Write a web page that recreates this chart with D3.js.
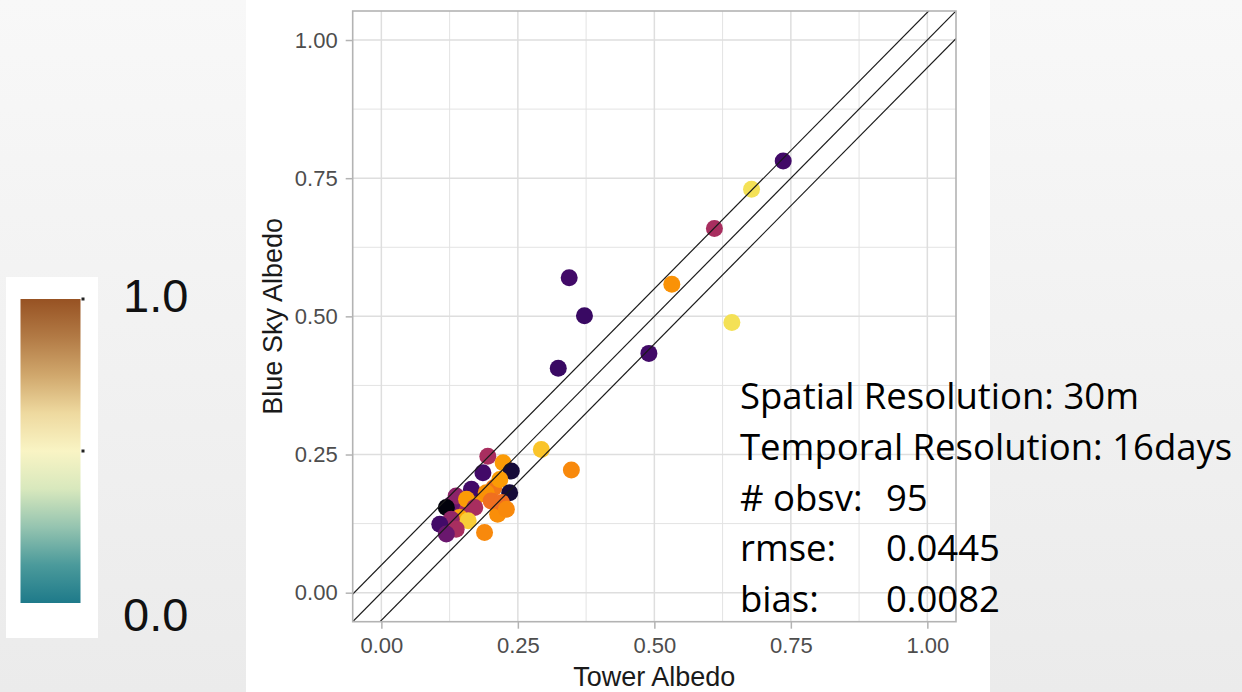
<!DOCTYPE html>
<html>
<head>
<meta charset="utf-8">
<script src="https://cdn.jsdelivr.net/npm/d3@7"></script>
<style>
  html, body { margin: 0; padding: 0; }
  body { width: 1242px; height: 692px; overflow: hidden; }
  text { font-variant-ligatures: none; }
</style>
</head>
<body>
<svg id="chart" width="1242" height="692"></svg>
<script>
// ---------- data ----------
const towerAlbedo = [0.176,0.206,0.153,0.129,0.213,
                     0.195,0.223,0.238,0.186,0.217,0.165,0.235,0.192,0.137,0.156,0.201,0.171,0.220,0.229,0.119,0.143,0.159,0.128,0.107,0.137,0.119,0.189,
                     0.293,0.348,0.324,0.490,0.642,0.372,0.532,0.344,0.610,0.678,0.736];
const blueSkyAlbedo = [0.176,0.190,0.147,0.160,0.142,
                       0.247,0.235,0.220,0.217,0.205,0.187,0.181,0.181,0.175,0.169,0.166,0.154,0.163,0.151,0.154,0.136,0.130,0.133,0.124,0.115,0.106,0.109,
                       0.259,0.222,0.406,0.433,0.489,0.501,0.558,0.570,0.659,0.730,0.781];
const colorValue = [0.78,0.70,0.45,0.30,0.75,
                    0.45,0.78,0.10,0.20,0.78,0.20,0.10,0.76,0.38,0.78,0.68,0.45,0.68,0.74,0.02,0.80,0.88,0.40,0.20,0.45,0.30,0.74,
                    0.86,0.74,0.18,0.20,0.92,0.18,0.76,0.20,0.45,0.92,0.20];
const refOffsets = [0.05, 0, -0.05];
const tickValues = [0, 0.25, 0.5, 0.75, 1];
const minorValues = [0.125, 0.375, 0.625, 0.875];
const statLabels = ["Spatial Resolution: 30m", "Temporal Resolution: 16days", "# obsv:", "rmse:", "bias:"];
const statValues = ["", "", "95", "0.0445", "0.0082"];
const legendLabels = ["1.0", "0.0"];
const legendStops = ["#975223", "#b27a45", "#d0a76c", "#eed99f", "#f9f4c4", "#d8e8bd", "#95c4b0", "#4b9a9b", "#1e7a8a"];

// ---------- setup ----------
const svg = d3.select("#chart");
const defs = svg.append("defs");

const bg = defs.append("linearGradient").attr("id", "bg").attr("x1", 0).attr("x2", 0).attr("y1", 0).attr("y2", 1);
bg.append("stop").attr("offset", "0%").attr("stop-color", "#f8f8f8");
bg.append("stop").attr("offset", "100%").attr("stop-color", "#ebebeb");
svg.append("rect").attr("width", 1242).attr("height", 692).attr("fill", "url(#bg)");

// white chart area
svg.append("rect").attr("x", 246).attr("y", 0).attr("width", 744).attr("height", 692).attr("fill", "#ffffff");

// ---------- scales ----------
const pL = 352.7, pR = 956, pT = 11, pB = 621.7;
const x = d3.scaleLinear().domain([-0.0525, 1.0525]).range([pL, pR]);
const y = d3.scaleLinear().domain([-0.0525, 1.0525]).range([pB, pT]);

defs.append("clipPath").attr("id", "panelClip")
  .append("rect").attr("x", pL).attr("y", pT).attr("width", pR - pL).attr("height", pB - pT);

// grid
const grid = svg.append("g");
grid.selectAll(".vmin").data(minorValues).join("line")
  .attr("x1", d => x(d)).attr("x2", d => x(d)).attr("y1", pT).attr("y2", pB)
  .attr("stroke", "#e3e3e3").attr("stroke-width", 1);
grid.selectAll(".hmin").data(minorValues).join("line")
  .attr("y1", d => y(d)).attr("y2", d => y(d)).attr("x1", pL).attr("x2", pR)
  .attr("stroke", "#e3e3e3").attr("stroke-width", 1);
grid.selectAll(".vmaj").data(tickValues).join("line")
  .attr("x1", d => x(d)).attr("x2", d => x(d)).attr("y1", pT).attr("y2", pB)
  .attr("stroke", "#dedede").attr("stroke-width", 1.5);
grid.selectAll(".hmaj").data(tickValues).join("line")
  .attr("y1", d => y(d)).attr("y2", d => y(d)).attr("x1", pL).attr("x2", pR)
  .attr("stroke", "#dedede").attr("stroke-width", 1.5);

// points
const color = d3.scaleSequential(d3.interpolateInferno).domain([0, 1]);
const pts = towerAlbedo.map((d, i) => ({ x: d, y: blueSkyAlbedo[i], c: colorValue[i] }));
svg.append("g").attr("clip-path", "url(#panelClip)")
  .selectAll("circle").data(pts).join("circle")
  .attr("cx", d => x(d.x)).attr("cy", d => y(d.y)).attr("r", 8.5)
  .attr("fill", d => color(d.c));

// reference lines
const line = d3.line().x(d => x(d[0])).y(d => y(d[1]));
svg.append("g").attr("clip-path", "url(#panelClip)")
  .selectAll("path").data(refOffsets).join("path")
  .attr("d", o => line([[-0.2, -0.2 + o], [1.2, 1.2 + o]]))
  .attr("fill", "none").attr("stroke", "#1a1a1a").attr("stroke-width", 1.2);

// panel border
svg.append("rect").attr("x", pL).attr("y", pT).attr("width", pR - pL).attr("height", pB - pT)
  .attr("fill", "none").attr("stroke", "#b3b3b3").attr("stroke-width", 1.6);

// axes
const fmt = d3.format(".2f");
const xAxis = svg.append("g").attr("transform", `translate(0,${pB})`)
  .call(d3.axisBottom(x).tickValues(tickValues).tickFormat(fmt).tickSize(7).tickPadding(9));
const yAxis = svg.append("g").attr("transform", `translate(${pL},0)`)
  .call(d3.axisLeft(y).tickValues(tickValues).tickFormat(fmt).tickSize(7).tickPadding(8));
[xAxis, yAxis].forEach(a => {
  a.select(".domain").remove();
  a.selectAll(".tick line").attr("stroke", "#b3b3b3").attr("stroke-width", 1.5);
  a.selectAll(".tick text").attr("fill", "#4d4d4d")
    .style("font-family", "'Liberation Sans', Arial, sans-serif").style("font-size", "22px");
});

// axis titles
svg.append("text").attr("x", (pL + pR) / 2).attr("y", 686).attr("text-anchor", "middle")
  .style("font-family", "'Liberation Sans', Arial, sans-serif").style("font-size", "27px").attr("fill", "#1a1a1a")
  .text("Tower Albedo");
svg.append("text").attr("transform", `translate(282,${(pT + pB) / 2}) rotate(-90)`).attr("text-anchor", "middle")
  .style("font-family", "'Liberation Sans', Arial, sans-serif").style("font-size", "27px").attr("fill", "#1a1a1a")
  .text("Blue Sky Albedo");

// stats annotation
const statG = svg.append("g").style("font-family", "'Open Sans', Lato, sans-serif").style("font-size", "36.5px").attr("fill", "#000");
statLabels.forEach((t, i) => {
  statG.append("text").attr("x", 740).attr("y", 409 + i * 50.8).text(t);
  if (statValues[i]) statG.append("text").attr("x", 886).attr("y", 409 + i * 50.8).text(statValues[i]);
});

// colour legend
svg.append("rect").attr("x", 6).attr("y", 277).attr("width", 92).attr("height", 361).attr("fill", "#ffffff");
const lg = defs.append("linearGradient").attr("id", "legGrad").attr("x1", 0).attr("x2", 0).attr("y1", 0).attr("y2", 1);
legendStops.forEach((c, i) => lg.append("stop").attr("offset", (i / (legendStops.length - 1) * 100) + "%").attr("stop-color", c));
const lScale = d3.scaleLinear().domain([0, 1]).range([603, 299]);
svg.append("rect").attr("x", 20.5).attr("y", lScale(1)).attr("width", 60).attr("height", lScale(0) - lScale(1)).attr("fill", "url(#legGrad)");
svg.selectAll(".ldot").data([1, 0.5]).join("rect")
  .attr("x", 81.5).attr("y", d => lScale(d) - 1.5).attr("width", 3).attr("height", 3).attr("fill", "#222");
svg.selectAll(".llab").data(legendLabels).join("text")
  .attr("x", 123).attr("y", (d, i) => i === 0 ? 312 : 631)
  .style("font-family", "'Liberation Sans', Arial, sans-serif").style("font-size", "47px").attr("fill", "#111")
  .text(d => d);
</script>
</body>
</html>
